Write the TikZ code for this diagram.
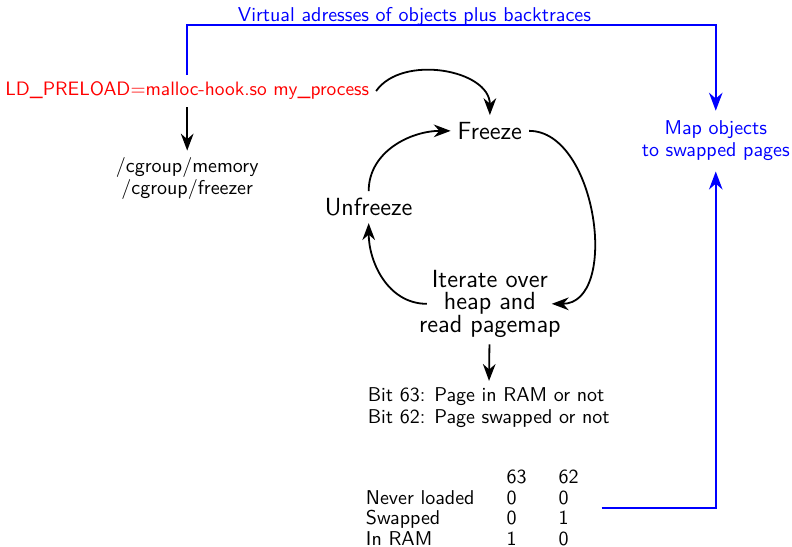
\documentclass[tikz,border=0pt]{standalone}
\usepackage{tikz}
\usetikzlibrary{positioning,arrows.meta,calc}

\begin{document}
\begin{tikzpicture}[font=\sffamily,>={Stealth[scale=1.2]},x=1mm,y=1mm]
\tikzset{
  stage/.style={font=\sffamily\fontsize{12.4}{11.2}\selectfont,align=center},
  note/.style={font=\sffamily\fontsize{10}{11}\selectfont,align=center},
  flow/.style={->,line width=0.9pt},
  link/.style={->,line width=1pt,blue},
}
\useasboundingbox (0,0) rectangle (139.2,96.1);

% process start and cgroup setup
\node[note,text=red,font=\sffamily\fontsize{9.7}{11}\selectfont] (ld) at (32.9,80.1) {LD\_PRELOAD=malloc-hook.so my\_process};
\node[note] (cgroup) at (32.9,64.7) {/cgroup/memory\\/cgroup/freezer};

% freeze / scan / unfreeze cycle
\node[stage] (freeze) at (86.1,73.1) {Freeze};
\node[stage] (unfreeze) at (64.8,59.7) {Unfreeze};
\node[stage] (iter) at (86.1,42.7) {Iterate over\\heap and\\read pagemap};

\node[note,align=left] (bits) at (85.9,24.4) {Bit 63: Page in RAM or not\\Bit 62: Page swapped or not};
\node[note,font=\sffamily\fontsize{10}{10.2}\selectfont] (tab) at (83.0,6.4) {%
  \setlength{\tabcolsep}{8pt}%
  \begin{tabular}{lll}
               & 63 & 62\\
  Never loaded & 0  & 0\\
  Swapped      & 0  & 1\\
  In RAM       & 1  & 0
  \end{tabular}};

\node[note,text=blue,inner sep=5pt] (map) at (125.8,71.3) {Map objects\\to swapped pages};
\coordinate (top) at (0,91.7);

\draw[flow] (ld) -- (cgroup);
\draw[flow] (ld.east) to[out=55,in=90] (freeze.north);
\draw[flow] (freeze.east) to[out=0,in=0] ([xshift=-2.8mm]iter.east);
\draw[flow] ([xshift=2.6mm]iter.west) to[out=180,in=-90] (unfreeze.south);
\draw[flow] (unfreeze.north) to[out=90,in=180] (freeze.west);
\draw[flow] (iter) -- (bits);

\draw[link] (ld.north) -- (ld.north |- top)
  -- node[pos=0.43,above,inner sep=0pt,yshift=-0.6pt,note,text=blue] {Virtual adresses of objects plus backtraces} (map.north |- top)
  -- (map.north);
\draw[link] ([yshift=0.5mm]tab.east) -| (map.south);
\end{tikzpicture}
\end{document}
